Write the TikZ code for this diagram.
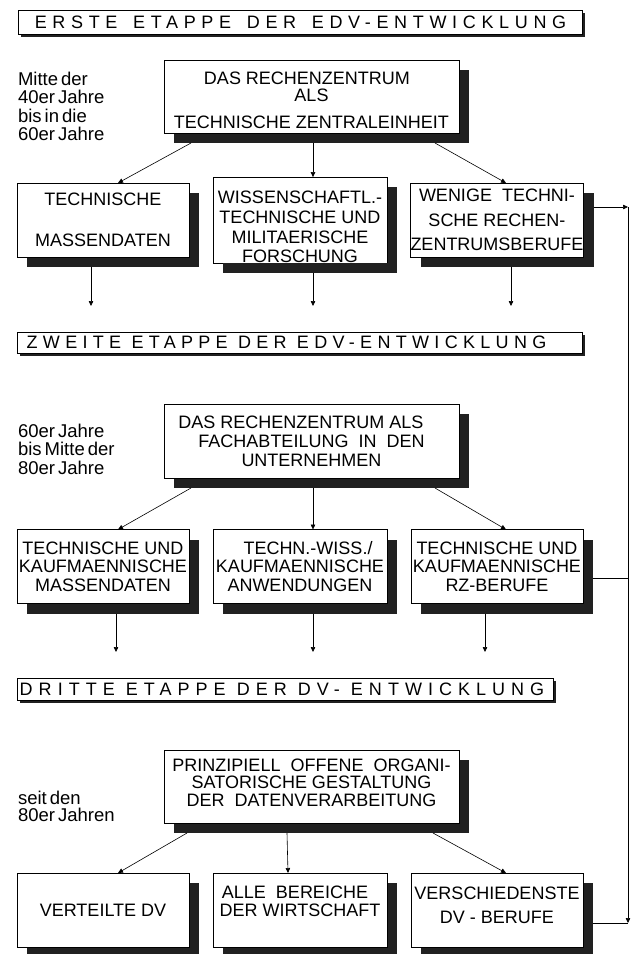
\documentclass[tikz,border=0pt]{standalone}
\usepackage{fontspec}
\setmainfont{Liberation Sans}
\newfontfamily\notefont[WordSpace=0.6]{Liberation Sans}
\newfontfamily\banA[LetterSpace=31.5]{Liberation Sans}
\newfontfamily\banB[LetterSpace=29.5]{Liberation Sans}
\newfontfamily\banC[LetterSpace=33.5]{Liberation Sans}
\usetikzlibrary{shadows,arrows.meta}
\definecolor{shadowc}{gray}{0.13}
\begin{document}
\begin{tikzpicture}[x=1pt,y=-1pt,
  every node/.style={inner sep=0pt,outer sep=0pt},
  bshadow/.style={drop shadow={shadow xshift=10pt,shadow yshift=-10pt,opacity=1,fill=shadowc}},
  rbox/.style={draw=black,line width=0.7pt,fill=white,align=center,bshadow,minimum height=74pt},
  pbox/.style={rbox,minimum width=295pt,minimum height=73pt},
  cbox/.style={rbox,minimum width=172pt},
  mbox/.style={rbox,minimum width=174pt},
  banner/.style={draw=black,line width=0.7pt,fill=white,drop shadow={shadow xshift=3pt,shadow yshift=-3pt,opacity=1,fill=shadowc}},
  note/.style={anchor=north west,align=left,font=\notefont\fontsize{18.5}{18.4}\selectfont},
  arr/.style={-{Triangle[length=5pt,width=4.5pt]},line width=0.6pt},
  conn/.style={line width=0.6pt},
  fs/.style={font=\fontsize{18}{#1}\selectfont}
]
\useasboundingbox (0,0) rectangle (634,954);

% banners
\node[banner,minimum width=564pt,minimum height=24pt] (ban1) at (300,22)
  {\banA\fontsize{18}{18}\selectfont\hspace*{1pt}ERSTE\hspace{5pt} ETAPPE\hspace{5pt} DER\hspace{5pt} EDV-ENTWICKLUNG};
\node[banner,minimum width=565pt,minimum height=21pt] (ban2) at (299.5,342.5)
  {\banB\fontsize{18}{18}\selectfont ZWEITE ETAPPE DER EDV-ENTWICKLUNG\hspace*{26pt}};
\node[banner,minimum width=536pt,minimum height=22pt] (ban3) at (285,689)
  {\banC\fontsize{18}{18}\selectfont DRITTE ETAPPE DER DV- ENTWICKLUNG\hspace*{6pt}};

% side notes
\node[note] (n1) at (18,72) {Mitte der\\40er Jahre\\bis in die\\60er Jahre};
\node[note] (n2) at (18,424) {60er Jahre\\bis Mitte der\\80er Jahre};
\node[note,font=\notefont\fontsize{18.5}{17}\selectfont] (n3) at (18,791) {seit den\\80er Jahren};

% stage 1
\node[pbox,fs=18.5] (p1) at (311.5,96.5)
  {\rule{0pt}{20pt}DAS RECHENZENTRUM\hspace*{9pt}\\[-1.5pt]ALS\\[9pt]TECHNISCHE ZENTRALEINHEIT};
\node[cbox,fs=20.5] (a1) at (103,220) {TECHNISCHE\\[20.5pt]MASSENDATEN};
\node[mbox,fs=19.7] (b1) at (300,220)
  {\rule{0pt}{26.5pt}WISSENSCHAFTL.-\\TECHNISCHE UND\\MILITAERISCHE\\FORSCHUNG};
\node[cbox,fs=24.5] (c1) at (497,220) {WENIGE\ \ TECHNI-\\SCHE RECHEN-\\ZENTRUMSBERUFE};
\fill[shadowc] ([xshift=10pt,yshift=-0.4pt]b1.south west) rectangle ([xshift=10pt,yshift=-10pt]b1.south east);

% stage 2
\node[pbox,fs=19,minimum height=74pt] (p2) at (311.5,441)
  {DAS RECHENZENTRUM ALS\hspace*{21pt}\\FACHABTEILUNG\ \ IN\ \ DEN\hspace*{9pt}\\UNTERNEHMEN};
\node[cbox,fs=18.5] (a2) at (103,566.5) {TECHNISCHE UND\\KAUFMAENNISCHE\\MASSENDATEN};
\node[mbox,fs=18.5] (b2) at (300,566.5) {\hspace*{16pt}TECHN.-WISS./\\KAUFMAENNISCHE\\ANWENDUNGEN};
\node[cbox,fs=18.5] (c2) at (497,566.5) {TECHNISCHE UND\\KAUFMAENNISCHE\\RZ-BERUFE};

% stage 3
\node[pbox,fs=17.5] (p3) at (311.5,786.5)
  {PRINZIPIELL\ \ OFFENE\ \ ORGANI-\\SATORISCHE GESTALTUNG\\DER\ \ DATENVERARBEITUNG\rule[-8pt]{0pt}{8pt}};
\node[cbox,fs=18] (a3) at (103,910) {VERTEILTE DV};
\node[mbox,fs=18] (b3) at (300,910) {ALLE\ \ BEREICHE\hspace*{10pt}\\DER WIRTSCHAFT\rule[-18pt]{0pt}{18pt}};
\node[cbox,fs=24] (c3) at (497,910) {VERSCHIEDENSTE\\DV - BERUFE\rule[-10pt]{0pt}{10pt}};

% connectors stage 1
\draw[arr] ([xshift=-120.5pt,yshift=-10pt]p1.south) -- ([xshift=15pt]a1.north);
\draw[arr] ([xshift=1.5pt,yshift=-10pt]p1.south) -- ([xshift=13pt]b1.north);
\draw[arr] ([xshift=123.5pt,yshift=-10pt]p1.south) -- ([xshift=9pt]c1.north);
\coordinate (e11) at (91,306);
\coordinate (e12) at (313,306);
\coordinate (e13) at (511,306);
\draw[arr] ([xshift=-12pt,yshift=-10pt]a1.south) -- (e11);
\draw[arr] ([xshift=13pt,yshift=-10pt]b1.south) -- (e12);
\draw[arr] ([xshift=14pt,yshift=-10pt]c1.south) -- (e13);

% connectors stage 2
\draw[arr] ([xshift=-120.5pt,yshift=-10pt]p2.south) -- ([xshift=15pt]a2.north);
\draw[arr] ([xshift=1.5pt,yshift=-10pt]p2.south) -- ([xshift=13pt]b2.north);
\draw[arr] ([xshift=123.5pt,yshift=-10pt]p2.south) -- ([xshift=9pt]c2.north);
\coordinate (e21) at (116,652);
\coordinate (e22) at (313,652);
\coordinate (e23) at (485,652);
\draw[arr] ([xshift=13pt,yshift=-10pt]a2.south) -- (e21);
\draw[arr] ([xshift=13pt,yshift=-10pt]b2.south) -- (e22);
\draw[arr] ([xshift=-12pt,yshift=-10pt]c2.south) -- (e23);

% connectors stage 3
\draw[arr] ([xshift=-124.5pt,yshift=-10pt]p3.south) -- ([xshift=15pt]a3.north);
\draw[arr] ([xshift=-24.5pt,yshift=-10pt]p3.south) -- ([xshift=-12pt]b3.north);
\draw[arr] ([xshift=121.5pt,yshift=-10pt]p3.south) -- ([xshift=9pt]c3.north);

% right-hand bus
\coordinate (bt) at (628,207);
\coordinate (bm) at (628,578);
\coordinate (bb) at (628,923);
\draw[arr] ([xshift=10pt,yshift=13pt]c1.east) -- (bt);
\draw[arr] (bt) -- (bb);
\draw[conn] ([xshift=10pt,yshift=-11.5pt]c2.east) -- (bm);
\draw[conn] ([xshift=10pt,yshift=-13pt]c3.east) -- (bb);
\end{tikzpicture}
\end{document}
